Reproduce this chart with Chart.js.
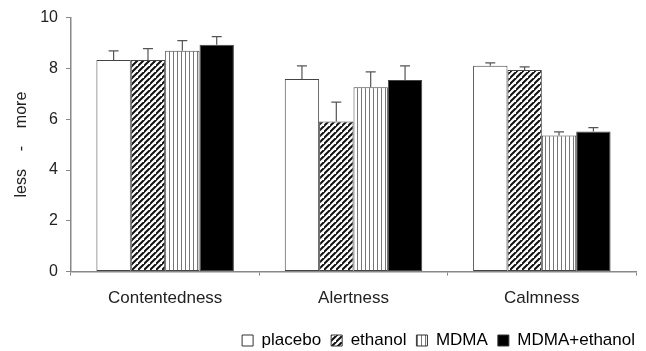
<!DOCTYPE html>
<html>
<head>
<meta charset="utf-8">
<script src="https://cdn.jsdelivr.net/npm/chart.js@4"></script>
<style>
  html, body { margin: 0; padding: 0; background: #fff; overflow: hidden; }
  #wrap { width: 646px; height: 351px; overflow: hidden; }
  #inner { width: 646px; height: 359px; position: relative; }
</style>
</head>
<body>
<div id="wrap"><div id="inner"><canvas id="myChart"></canvas></div></div>
<script>
const categories = ['Contentedness', 'Alertness', 'Calmness'];
const seriesNames = ['placebo', 'ethanol', 'MDMA', 'MDMA+ethanol'];
const placebo = [8.33, 7.58, 8.1];
const ethanol = [8.33, 5.91, 7.94];
const mdma = [8.69, 7.26, 5.36];
const mdmaEthanol = [8.93, 7.54, 5.52];
const placeboErr = [0.36, 0.52, 0.12];
const ethanolErr = [0.45, 0.76, 0.12];
const mdmaErr = [0.4, 0.6, 0.14];
const mdmaEthanolErr = [0.32, 0.56, 0.15];
const yTicks = [0, 2, 4, 6, 8, 10];

function makePattern(kind) {
  const c = document.createElement('canvas');
  const s = kind === 'hatch' ? 6 : 4;
  c.width = s; c.height = s;
  const g = c.getContext('2d');
  g.fillStyle = '#fff';
  g.fillRect(0, 0, s, s);
  if (kind === 'hatch') {
    g.strokeStyle = '#111';
    g.lineWidth = 2;
    g.beginPath();
    g.moveTo(-1, s + 1); g.lineTo(s + 1, -1);
    g.moveTo(-1 - s, s + 1); g.lineTo(1, -1);
    g.moveTo(s - 1, 2 * s + 1); g.lineTo(2 * s + 1, s - 1);
    g.stroke();
  } else {
    g.strokeStyle = '#777';
    g.lineWidth = 1;
    g.beginPath();
    g.moveTo(1.5, 0); g.lineTo(1.5, s);
    g.stroke();
  }
  return g.createPattern(c, 'repeat');
}

const fills = ['#ffffff', makePattern('hatch'), makePattern('vert'), '#000000'];
const values = [placebo, ethanol, mdma, mdmaEthanol];
const errors = [placeboErr, ethanolErr, mdmaErr, mdmaEthanolErr];

// upward-only error bars with a small cap
const errorBars = {
  id: 'errorBars',
  afterDatasetsDraw(chart) {
    const ctx = chart.ctx;
    const y = chart.scales.y;
    ctx.save();
    ctx.strokeStyle = '#555';
    ctx.lineWidth = 1.2;
    chart.data.datasets.forEach((ds, i) => {
      const meta = chart.getDatasetMeta(i);
      meta.data.forEach((bar, j) => {
        const top = y.getPixelForValue(ds.data[j] + ds.errors[j]);
        ctx.beginPath();
        ctx.moveTo(bar.x, bar.y);
        ctx.lineTo(bar.x, top);
        ctx.moveTo(bar.x - 5, top);
        ctx.lineTo(bar.x + 5, top);
        ctx.stroke();
      });
    });
    ctx.restore();
  }
};

const font = 'Liberation Sans';

const ctx = document.getElementById('myChart').getContext('2d');
const myChart = new Chart(ctx, {
  type: 'bar',
  data: {
    labels: categories,
    datasets: seriesNames.map((name, i) => ({
      label: name,
      data: values[i],
      errors: errors[i],
      backgroundColor: fills[i],
      borderColor: '#444',
      borderWidth: 1,
      borderSkipped: false,
      categoryPercentage: 0.73,
      barPercentage: 1.0
    }))
  },
  options: {
    responsive: true,
    maintainAspectRatio: false,
    animation: false,
    layout: { padding: { top: 16, right: 1, left: 8, bottom: 0 } },
    plugins: {
      tooltip: { enabled: false },
      legend: {
        position: 'bottom',
        align: 'end',
        labels: {
          color: '#222',
          font: { family: font, size: 17 },
          boxWidth: 11,
          boxHeight: 11,
          padding: 10,
          generateLabels(chart) {
            return chart.data.datasets.map((ds, i) => ({
              text: ds.label,
              fillStyle: fills[i],
              strokeStyle: '#333',
              lineWidth: 1,
              datasetIndex: i
            }));
          }
        }
      }
    },
    scales: {
      x: {
        offset: true,
        afterFit(axis) {
          axis.paddingRight = Math.max(axis.paddingRight, 10);
        },
        grid: {
          offset: true,
          drawOnChartArea: false,
          color: '#888',
          tickLength: 4
        },
        border: { color: '#888', width: 1.5 },
        ticks: {
          color: '#222',
          font: { family: font, size: 17 },
          padding: 13
        }
      },
      y: {
        min: 0,
        max: 10,
        afterBuildTicks(axis) {
          axis.ticks = yTicks.map(v => ({ value: v }));
        },
        grid: {
          drawOnChartArea: false,
          color: '#888',
          tickLength: 5
        },
        border: { color: '#888', width: 1.5 },
        ticks: {
          color: '#222',
          font: { family: font, size: 16 },
          padding: 8
        },
        title: {
          display: true,
          text: 'less    -    more',
          color: '#222',
          font: { family: font, size: 16 },
          padding: { bottom: 1 }
        }
      }
    }
  },
  plugins: [errorBars]
});
</script>
</body>
</html>
